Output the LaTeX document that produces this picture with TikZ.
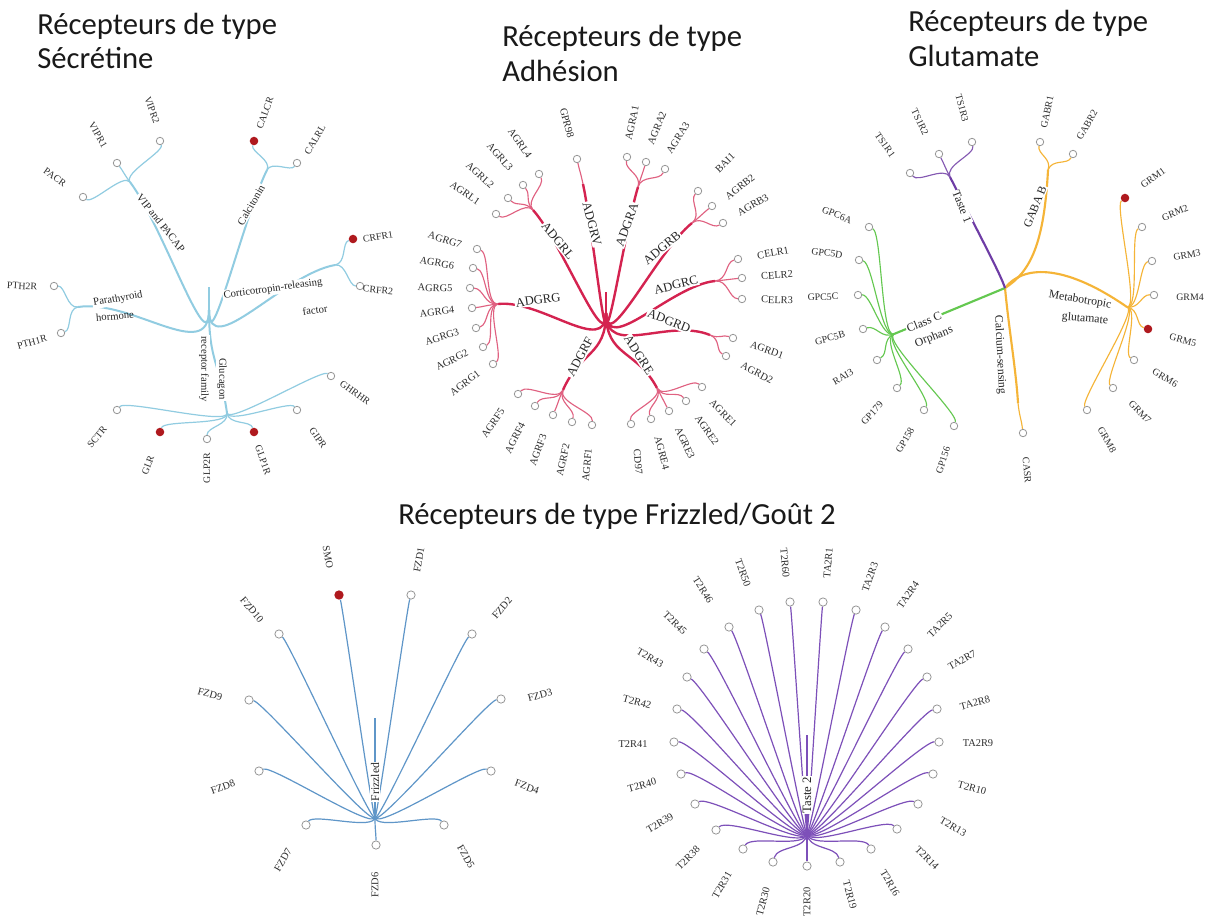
\documentclass[tikz,border=0pt]{standalone}
\usepackage{fontspec}
\setmainfont{Liberation Serif}
\newfontfamily\titlefont{Carlito}
\usetikzlibrary{calc}
\pgfdeclarelayer{bgl}
\pgfdeclarelayer{links}
\pgfsetlayers{bgl,links,main}
\definecolor{secC}{RGB}{145,204,225}
\definecolor{adhC}{RGB}{212,35,80}
\definecolor{tOneC}{RGB}{110,60,165}
\definecolor{ccC}{RGB}{100,200,80}
\definecolor{orC}{RGB}{245,180,55}
\definecolor{fzC}{RGB}{95,150,200}
\definecolor{tTwoC}{RGB}{125,80,185}
\definecolor{redC}{RGB}{175,25,30}
\definecolor{circG}{RGB}{150,150,150}
\definecolor{txtC}{RGB}{45,45,45}
\tikzset{
  leaf/.style={circle, draw=circG, fill=white, line width=0.6pt, minimum size=5.6pt, inner sep=0pt},
  bigleaf/.style={leaf, minimum size=6.2pt},
  hit/.style={circle, fill=redC, minimum size=6.4pt, inner sep=0pt},
  lab/.style={font=\fontsize{7.4}{8}\selectfont, text=txtC, inner sep=0.5pt},
  blab/.style={font=\fontsize{7.8}{8}\selectfont, text=txtC, inner sep=0.5pt},
  slab/.style={font=\fontsize{8}{9}\selectfont, text=black!85, inner sep=0.8pt},
  glab/.style={font=\fontsize{8.8}{9}\selectfont, text=black!85, inner sep=0.8pt},
  alab/.style={font=\fontsize{9.5}{10}\selectfont, text=black!85, inner sep=0.8pt},
  wf/.style={fill=white},
  ttl/.style={font=\titlefont\fontsize{23}{26}\selectfont, text=black!90, inner sep=0pt, anchor=base west},
  secS/.style={draw=secC, line width=1.5pt},
  secL/.style={draw=secC, line width=0.9pt},
  adhS/.style={draw=adhC, line width=1.8pt},
  adhL/.style={draw=adhC!72!white, line width=0.85pt},
  tOneS/.style={draw=tOneC, line width=1.6pt},
  tOneL/.style={draw=tOneC!85!white, line width=0.85pt},
  ccS/.style={draw=ccC, line width=1.6pt},
  ccL/.style={draw=ccC, line width=0.85pt},
  orS/.style={draw=orC, line width=1.6pt},
  orL/.style={draw=orC, line width=0.85pt},
  fzL/.style={draw=fzC, line width=0.9pt},
  tTwoL/.style={draw=tTwoC, line width=0.9pt},
}
% radial (d3-like) link: style, origin, source, target
\newcommand\radlink[4]{\begin{pgfonlayer}{links}\draw[#1] let \p1=($(#3)-(#2)$), \p2=($(#4)-(#2)$),
  \n1={atan2(\y1,\x1)}, \n2={atan2(\y2,\x2)},
  \n3={(veclen(\x1,\y1)+veclen(\x2,\y2))/2} in
  (#3) .. controls ($(#2)+(\n1:\n3)$) and ($(#2)+(\n2:\n3)$) .. (#4);\end{pgfonlayer}}
\begin{document}
\begin{tikzpicture}[x=0.75pt,y=-0.75pt]
\begin{pgfonlayer}{bgl}
\fill[white] (0,0) rectangle (1209,922);
\end{pgfonlayer}
\useasboundingbox (0,0) rectangle (1209,922);

% ---------------- titles
\node[ttl] (ta1) at (37,34) {Récepteurs de type};
\node[ttl] (ta2) at (37,68) {Sécrétine};
\node[ttl] (tb1) at (502,46) {Récepteurs de type};
\node[ttl] (tb2) at (502,81) {Adhésion};
\node[ttl] (tc1) at (908,31) {Récepteurs de type};
\node[ttl] (tc2) at (908,66) {Glutamate};
\node[ttl] (td1) at (398,524) {Récepteurs de type Frizzled/Goût 2};

% ================= SECRETIN
\coordinate (Os) at (209,287);
\coordinate (Fs) at (209,310);
\coordinate (sVIP) at (130,182);
\coordinate (sCAL) at (267,170);
\coordinate (sCRF) at (335,265);
\coordinate (sPTH) at (78,307);
\coordinate (sGLU) at (227,413);
\foreach \nm/\px/\py/\lx/\ly/\rt in {PACR/83/197/55/177/-35, VIPR1/117/163/98/135/-60,
  VIPR2/160/141/152/110/-70, CALRL/297/163/315/140/60, CRFR2/360/286/378/290/-5,
  PTH2R/54/286/22/286/-3, PTH1R/61/333/32/342/15, SCTR/117/410/97/437/50,
  GLP2R/207/439/207/468/90, GIPR/297/410/318/438/-55, GHRHR/331/376/355/393/-35}{
  \node[leaf] (\nm) at (\px,\py) {};
  \node[lab, rotate=\rt] (\nm-l) at (\lx,\ly) {\nm};
}
\foreach \nm/\px/\py/\lx/\ly/\rt in {CALCR/254/141/265/113/70, CRFR1/353/239/378/237/10,
  GLR/160/432/148/465/70, GLP1R/254/432/263/460/-70}{
  \node[hit] (\nm) at (\px,\py) {};
  \node[lab, rotate=\rt] (\nm-l) at (\lx,\ly) {\nm};
}
\begin{pgfonlayer}{links}\draw[secS] (Os) -- (Fs);\end{pgfonlayer}
\foreach \nm in {sVIP,sCAL,sCRF,sPTH,sGLU}{\radlink{secS}{Os}{Fs}{\nm}}
\foreach \nm in {PACR,VIPR1,VIPR2}{\radlink{secL}{Os}{sVIP}{\nm}}
\foreach \nm in {CALCR,CALRL}{\radlink{secL}{Os}{sCAL}{\nm}}
\foreach \nm in {CRFR1,CRFR2}{\radlink{secL}{Os}{sCRF}{\nm}}
\foreach \nm in {PTH2R,PTH1R}{\radlink{secL}{Os}{sPTH}{\nm}}
\foreach \nm in {SCTR,GLR,GLP2R,GLP1R,GIPR,GHRHR}{\radlink{secL}{Os}{sGLU}{\nm}}
\node[slab, wf, rotate=-52] (vip) at (161,223) {VIP and PACAP};
\node[slab, wf, rotate=60] (calc) at (251,205) {Calcitonin};
\node[slab, wf, rotate=8] (crf) at (273,289) {Corticotropin-releasing};
\node[slab, rotate=8] (crfb) at (315,310) {factor};
\node[slab, wf, rotate=10] (pth) at (118,299) {Parathyroid};
\node[slab, rotate=5] (pthb) at (115,316) {hormone};
\node[slab, wf, rotate=-90] (glu) at (222,379) {Glucagon};
\node[slab, wf, rotate=-90] (glub) at (204,369) {receptor family};

% ================= ADHESION
\coordinate (Oa) at (606,292);
\coordinate (Fa) at (606,313);
\coordinate (aL) at (533,210);
\coordinate (aV) at (583,184);
\coordinate (aA) at (638,187);
\coordinate (aB) at (692,223);
\coordinate (aC) at (715,281);
\coordinate (aD) at (710,335);
\coordinate (aE) at (657,388);
\coordinate (aF) at (563,390);
\coordinate (aG) at (498,304);
\foreach \nm/\px/\py/\lx/\ly/\rt in {AGRL1/496/214/465/193/-35, AGRL2/508/198/480/175/-42,
  AGRL3/523/185/500/157/-48, AGRL4/539/174/520/143/-55, GPR98/577/159/567/123/-75,
  AGRA1/627/157/632/123/78, AGRA2/646/162/657/128/68, AGRA3/665/169/678/138/58,
  BAI1/698/191/725/163/45, AGRB2/712/206/740/187/38, AGRB3/723/223/753/205/30,
  CELR1/738/259/773/253/10, CELR2/742/278/777/275/4, CELR3/742/299/777/300/-2,
  AGRD1/733/338/767/350/-20, AGRD2/726/356/757/373/-28,
  AGRE1/702/387/723/413/-45, AGRE2/686/401/707/430/-55, AGRE3/669/411/685/443/-65,
  AGRE4/651/419/662/453/-75, CD97/631/424/638/462/-85,
  AGRF5/518/394/493/423/55, AGRF4/535/406/515/438/63, AGRF3/553/415/538/450/70,
  AGRF2/572/422/563/460/78, AGRF1/592/425/587/465/85,
  AGRG7/477/249/445/240/-18, AGRG6/473/268/437/263/-10, AGRG5/470/288/435/288/-2,
  AGRG4/472/308/437/312/7, AGRG3/476/328/442/337/17, AGRG2/483/347/452/360/27,
  AGRG1/493/364/465/383/37}{
  \node[leaf] (\nm) at (\px,\py) {};
  \node[blab, rotate=\rt] (\nm-l) at (\lx,\ly) {\nm};
}
\begin{pgfonlayer}{links}\draw[adhS] (Oa) -- (Fa);\end{pgfonlayer}
\foreach \nm in {aL,aV,aA,aB,aC,aD,aE,aF,aG}{\radlink{adhS}{Oa}{Fa}{\nm}}
\foreach \nm in {AGRL1,AGRL2,AGRL3,AGRL4}{\radlink{adhL}{Oa}{aL}{\nm}}
\radlink{adhL}{Oa}{aV}{GPR98}
\foreach \nm in {AGRA1,AGRA2,AGRA3}{\radlink{adhL}{Oa}{aA}{\nm}}
\foreach \nm in {BAI1,AGRB2,AGRB3}{\radlink{adhL}{Oa}{aB}{\nm}}
\foreach \nm in {CELR1,CELR2,CELR3}{\radlink{adhL}{Oa}{aC}{\nm}}
\foreach \nm in {AGRD1,AGRD2}{\radlink{adhL}{Oa}{aD}{\nm}}
\foreach \nm in {AGRE1,AGRE2,AGRE3,AGRE4,CD97}{\radlink{adhL}{Oa}{aE}{\nm}}
\foreach \nm in {AGRF1,AGRF2,AGRF3,AGRF4,AGRF5}{\radlink{adhL}{Oa}{aF}{\nm}}
\foreach \nm in {AGRG1,AGRG2,AGRG3,AGRG4,AGRG5,AGRG6,AGRG7}{\radlink{adhL}{Oa}{aG}{\nm}}
\node[alab, wf, rotate=-50] (adgrl) at (558,241) {ADGRL};
\node[alab, wf, rotate=-75] (adgrv) at (592,224) {ADGRV};
\node[alab, wf, rotate=70] (adgra) at (627,225) {ADGRA};
\node[alab, wf, rotate=40] (adgrb) at (662,248) {ADGRB};
\node[alab, wf, rotate=14] (adgrc) at (676,285) {ADGRC};
\node[alab, wf, rotate=-22] (adgrd) at (669,321) {ADGRD};
\node[alab, wf, rotate=-57] (adgre) at (639,355) {ADGRE};
\node[alab, wf, rotate=62] (adgrf) at (580,357) {ADGRF};
\node[alab, wf, rotate=8] (adgrg) at (538,300) {ADGRG};

% ================= GLUTAMATE
\coordinate (Og) at (1005,287);
\coordinate (Fg) at (1005,288);
\coordinate (gT1) at (950,177);
\coordinate (gGB) at (1048,170);
\coordinate (gMG) at (1127,307);
\coordinate (gCS) at (1018,403);
\coordinate (gCC) at (894,334);
\foreach \nm/\px/\py/\lx/\ly/\rt in {TS1R1/910/173/885/145/-55, TS1R2/939/154/920/122/-65,
  TS1R3/972/142/962/108/-75, GABR1/1040/142/1047/112/78, GABR2/1073/154/1087/125/60,
  GRM2/1142/227/1175/213/22, GRM3/1152/261/1187/255/10, GRM4/1154/295/1190/297/0,
  GRM6/1134/360/1165/378/-30, GRM7/1113/388/1140/412/-45, GRM8/1087/410/1107/440/-60,
  CASR/1023/433/1027/470/-85,
  GPC6A/869/227/837/215/-22, GPC5D/859/260/827/253/-8, GPC5C/858/295/823/297/2,
  GPC5B/863/329/830/338/15, RAI3/877/360/843/377/30, GP179/897/388/872/413/47,
  GP158/924/410/905/440/60, GP156/954/426/943/460/72}{
  \node[leaf] (\nm) at (\px,\py) {};
  \node[lab, rotate=\rt] (\nm-l) at (\lx,\ly) {\nm};
}
\foreach \nm/\px/\py/\lx/\ly/\rt in {GRM1/1125/198/1153/178/35, GRM5/1148/329/1183/340/-15}{
  \node[hit] (\nm) at (\px,\py) {};
  \node[lab, rotate=\rt] (\nm-l) at (\lx,\ly) {\nm};
}
\begin{pgfonlayer}{links}
\draw[orS] (Fg) .. controls (1030,272) and (1044,245) .. (gGB);
\draw[orS] (Fg) .. controls (1022,266) and (1062,262) .. (gMG);
\draw[orS] (Fg) .. controls (1009,330) and (1016,370) .. (gCS);
\draw[ccS] (Fg) -- (gCC);
\draw[tOneS] (Fg) .. controls (1001,276) and (990,255) .. (gT1);
\end{pgfonlayer}
\foreach \nm in {TS1R1,TS1R2,TS1R3}{\radlink{tOneL}{Og}{gT1}{\nm}}
\foreach \nm in {GABR1,GABR2}{\radlink{orL}{Og}{gGB}{\nm}}
\foreach \nm in {GRM1,GRM2,GRM3,GRM4,GRM5,GRM6,GRM7,GRM8}{\radlink{orL}{Og}{gMG}{\nm}}
\radlink{orL}{Og}{gCS}{CASR}
\foreach \nm in {GPC6A,GPC5D,GPC5C,GPC5B,RAI3,GP179,GP158,GP156}{\radlink{ccL}{Og}{gCC}{\nm}}
\node[glab, wf, rotate=-68] (taste1) at (962,207) {Taste 1};
\node[glab, wf, rotate=68] (gabab) at (1035,207) {GABA B};
\node[glab, wf, rotate=-10] (metab) at (1080,300) {Metabotropic};
\node[glab, rotate=-5] (metabb) at (1085,319) {glutamate};
\node[glab, rotate=-87] (calcs) at (1000,355) {Calcium-sensing};
\node[glab, wf, rotate=22] (classc) at (924,322) {Class C};
\node[glab, rotate=22] (orph) at (934,337) {Orphans};

% ================= FRIZZLED
\coordinate (Of) at (375,718);
\coordinate (Ff) at (375,817);
\foreach \nm/\px/\py/\lx/\ly/\rt in {FZD1/411/595/419/560/80, FZD2/472/634/502/608/50,
  FZD3/501/699/540/695/15, FZD4/491/771/527/787/-20, FZD5/444/825/466/857/-60,
  FZD6/376/845/375/885/90, FZD7/306/825/283/860/60, FZD8/259/771/223/787/20,
  FZD9/249/700/210/694/-15, FZD10/279/634/252/610/-50}{
  \node[bigleaf] (\nm) at (\px,\py) {};
  \node[blab, rotate=\rt] (\nm-l) at (\lx,\ly) {\nm};
}
\node[hit, minimum size=7pt] (SMO) at (339,595) {};
\node[blab, rotate=-80] (SMO-l) at (328,557) {SMO};
\begin{pgfonlayer}{links}
\draw[fzL] (Of) -- (Ff);
\draw[draw=fzC, line width=2.2pt] (Of) -- ($(Of)+(0,12)$);
\end{pgfonlayer}
\foreach \nm in {SMO,FZD1,FZD2,FZD3,FZD4,FZD5,FZD6,FZD7,FZD8,FZD9,FZD10}{\radlink{fzL}{Of}{Ff}{\nm}}
\node[glab, wf, rotate=90, inner sep=0.4pt] (frz) at (375,782) {Frizzled};

% ================= TASTE 2
\coordinate (Ot) at (807,735);
\coordinate (Ft) at (807,833);
\foreach \nm/\px/\py/\lx/\ly/\rt in {T2R60/790/602/785/563/-85, T2R50/759/610/743/573/-70,
  T2R46/729/627/703/590/-58, T2R45/704/649/675/623/-45, T2R43/687/677/650/658/-30,
  T2R42/677/709/637/702/-15, T2R41/674/742/633/744/0, T2R40/681/774/642/785/15,
  T2R39/695/804/660/823/30, T2R38/716/830/688/858/45, T2R31/743/849/722/885/60,
  T2R30/773/862/763/902/75, T2R20/807/866/807/902/90, T2R19/840/862/850/895/-75,
  T2R16/871/849/890/883/-60, T2R14/897/829/927/858/-45, T2R13/918/804/953/827/-30,
  T2R10/933/774/972/788/-15, TA2R9/939/742/978/743/0, TA2R8/937/709/975/703/15,
  TA2R7/927/677/962/660/30, TA2R5/908/649/940/625/45, TA2R4/885/627/908/595/55,
  TA2R3/856/610/870/577/70, TA2R1/823/602/828/563/85}{
  \node[bigleaf] (\nm) at (\px,\py) {};
  \node[blab, rotate=\rt] (\nm-l) at (\lx,\ly) {\nm};
}
\begin{pgfonlayer}{links}
\draw[tTwoL] (Ot) -- (Ft);
\draw[draw=tTwoC, line width=2.2pt] (Ot) -- ($(Ot)+(0,12)$);
\end{pgfonlayer}
\foreach \nm in {T2R60,T2R50,T2R46,T2R45,T2R43,T2R42,T2R41,T2R40,T2R39,T2R38,T2R31,T2R30,T2R20,
  T2R19,T2R16,T2R14,T2R13,T2R10,TA2R9,TA2R8,TA2R7,TA2R5,TA2R4,TA2R3,TA2R1}{\radlink{tTwoL}{Ot}{Ft}{\nm}}
\node[glab, wf, rotate=90, font=\fontsize{9.6}{10}\selectfont, inner sep=0.4pt] (taste2) at (807,795) {Taste 2};
\end{tikzpicture}
\end{document}
